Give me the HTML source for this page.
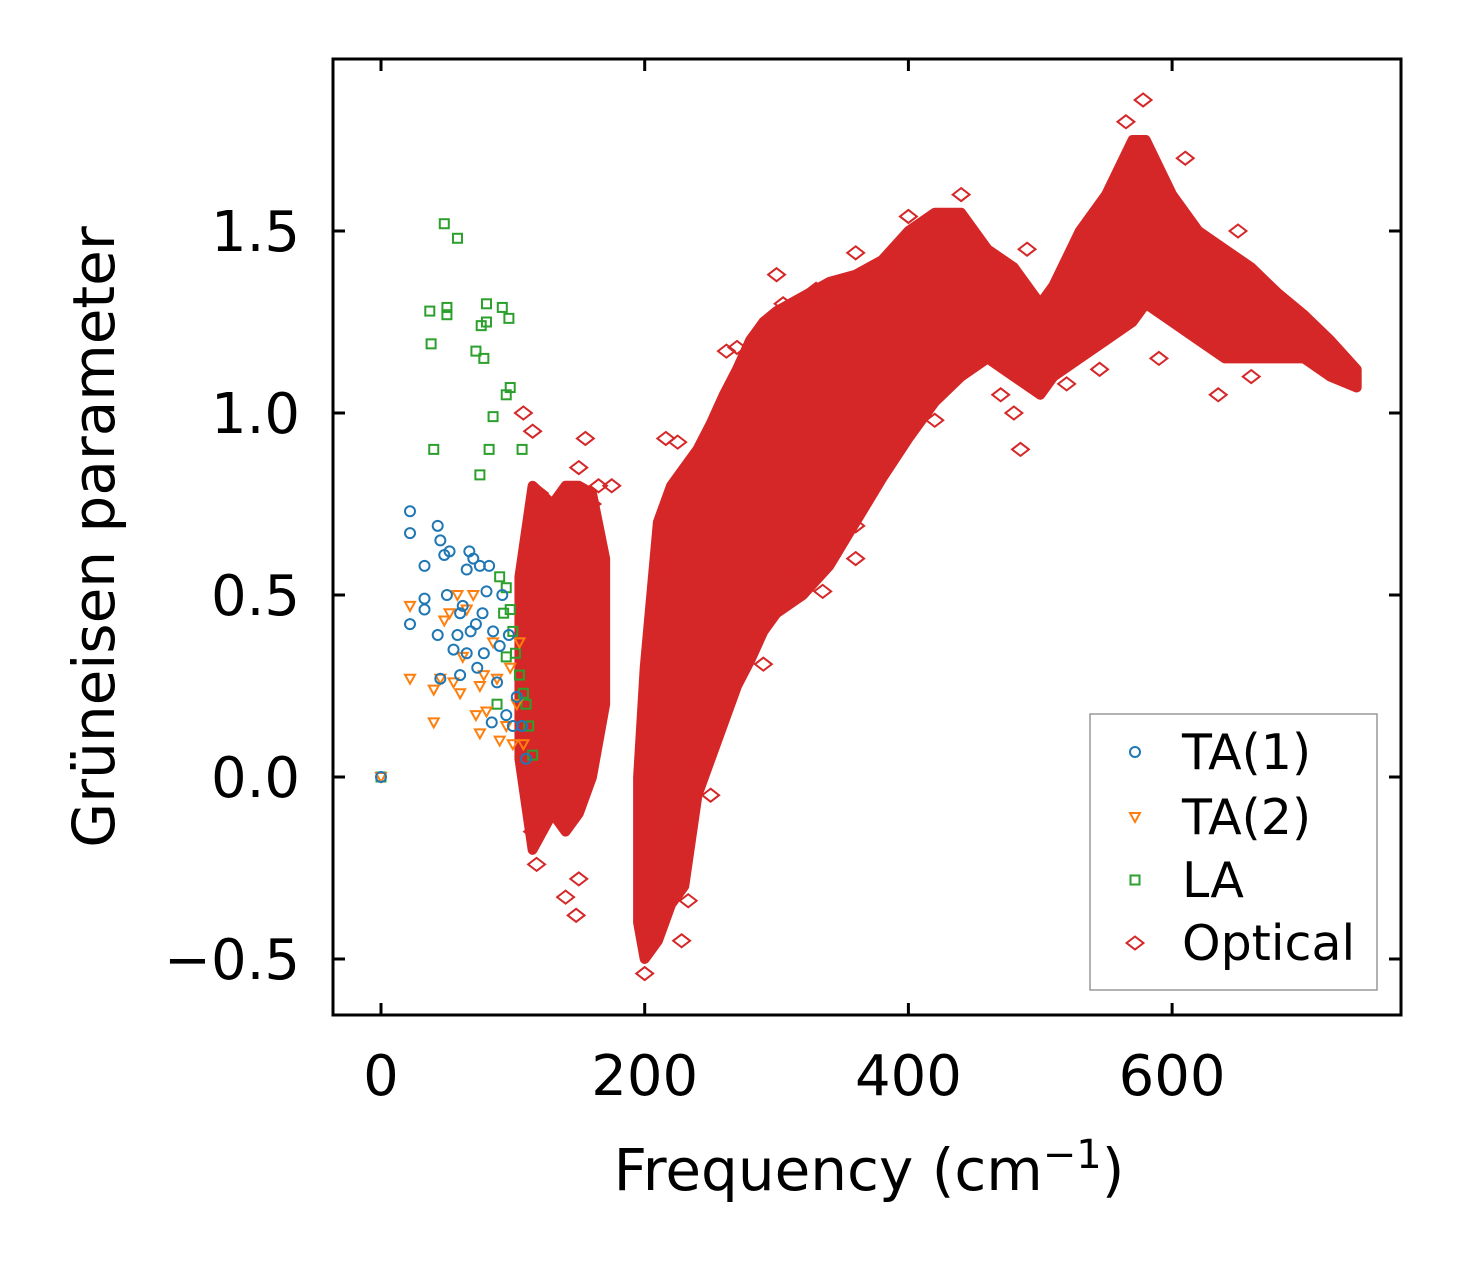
<!DOCTYPE html>
<html><head><meta charset="utf-8"><style>
html,body{margin:0;padding:0;background:#fff}
svg text{font-family:"DejaVu Sans","Liberation Sans",sans-serif;fill:#000}
</style></head><body>
<svg id="chart" width="1462" height="1264" xmlns="http://www.w3.org/2000/svg">
<g id="marks"></g>
<g id="axes"></g>
</svg>
<script>
const xTicks=[0,200,400,600];
const xTickLabels=["0","200","400","600"];
const yTicks=[-0.5,0,0.5,1.0,1.5];
const yTickLabels=["\u22120.5","0.0","0.5","1.0","1.5"];
const ta1X=[0,22,22,22,33,33,33,43,45,43,48,50,52,55,58,60,62,65,67,68,70,72,73,75,78,80,82,84,85,88,90,92,95,97,100,103,107,110,65,60,45,77];
const ta1Y=[0,0.73,0.67,0.42,0.58,0.49,0.46,0.69,0.65,0.39,0.61,0.5,0.62,0.35,0.39,0.28,0.47,0.57,0.62,0.4,0.6,0.42,0.3,0.58,0.34,0.51,0.58,0.15,0.4,0.26,0.36,0.5,0.17,0.39,0.14,0.22,0.14,0.05,0.34,0.45,0.27,0.45];
const ta2X=[0,22,22,40,40,45,48,52,55,58,60,62,70,72,75,78,80,85,88,90,95,98,100,103,105,108,75,65];
const ta2Y=[0,0.47,0.27,0.24,0.15,0.27,0.43,0.45,0.26,0.5,0.23,0.33,0.5,0.17,0.12,0.28,0.18,0.37,0.27,0.1,0.14,0.3,0.09,0.2,0.37,0.09,0.25,0.46];
const laX=[0,37,38,40,48,50,50,58,72,75,76,78,80,80,82,85,92,95,97,98,107,90,93,95,98,100,102,105,108,110,112,115,88,95];
const laY=[0,1.28,1.19,0.9,1.52,1.29,1.27,1.48,1.17,0.83,1.24,1.15,1.3,1.25,0.9,0.99,1.29,1.05,1.26,1.07,0.9,0.55,0.45,0.52,0.46,0.4,0.34,0.28,0.23,0.2,0.14,0.06,0.2,0.33];
// optical band envelope (two lobes)
const bandAFreq=[105,115,130,140,150,160,170];
const bandALow=[0.05,-0.2,-0.1,-0.15,-0.1,0.0,0.2];
const bandAHigh=[0.55,0.8,0.75,0.8,0.8,0.78,0.6];
const bandBFreq=[195,200,210,220,230,240,250,260,270,280,290,300,320,340,360,380,400,420,440,460,480,500,510,530,550,570,580,600,620,640,660,680,700,720,740];
const bandBLow=[-0.4,-0.5,-0.45,-0.35,-0.3,-0.05,0.05,0.15,0.25,0.32,0.4,0.45,0.5,0.58,0.7,0.82,0.93,1.03,1.1,1.15,1.1,1.05,1.1,1.15,1.2,1.25,1.3,1.25,1.2,1.15,1.15,1.15,1.15,1.1,1.07];
const bandBHigh=[0.0,0.3,0.7,0.8,0.85,0.9,0.97,1.05,1.12,1.2,1.25,1.28,1.32,1.36,1.38,1.42,1.5,1.55,1.55,1.45,1.4,1.3,1.35,1.5,1.6,1.75,1.75,1.6,1.5,1.45,1.4,1.33,1.27,1.2,1.12];
const optX=[108,115,120,125,115,118,140,148,150,155,165,200,228,233,300,305,330,350,360,385,400,440,470,480,485,490,578,565,610,635,625,650,290,300,335,360,360,270,262,225,216,150,160,175,280,310,250,320,345,420,520,545,590,660];
const optY=[1.0,0.95,0.78,0.7,-0.15,-0.24,-0.33,-0.38,-0.28,0.93,0.8,-0.54,-0.45,-0.34,1.38,1.3,1.34,1.3,1.44,1.42,1.54,1.6,1.05,1.0,0.9,1.45,1.86,1.8,1.7,1.05,1.35,1.5,0.31,0.47,0.51,0.6,0.69,1.18,1.17,0.92,0.93,0.85,0.75,0.8,0.38,0.55,-0.05,0.58,0.67,0.98,1.08,1.12,1.15,1.1];

const NS='http://www.w3.org/2000/svg';
const L=333,R=1401,T=59,B=1015;
const sx=v=>381+v*1.3185;
const sy=v=>777-v*364;
const marks=document.getElementById('marks'), axes=document.getElementById('axes');
function mk(tag,attrs,parent){const e=document.createElementNS(NS,tag);for(const k in attrs)e.setAttribute(k,attrs[k]);parent.appendChild(e);return e;}
const RED='#d62728';
function band(F,Lo,Hi,name){
  let pts=[];for(let i=0;i<F.length;i++)pts.push(sx(F[i])+','+sy(Hi[i]));
  for(let i=F.length-1;i>=0;i--)pts.push(sx(F[i])+','+sy(Lo[i]));
  const p=mk('polygon',{points:pts.join(' '),fill:RED,stroke:RED,'stroke-width':10,'stroke-linejoin':'round'},marks);
  
  
}
band(bandAFreq,bandALow,bandAHigh,'optical-band-low');
band(bandBFreq,bandBLow,bandBHigh,'optical-band-high');
function diamond(x,y,parent){const d=6.5;return mk('polygon',{points:`${x},${y-d} ${x+d*1.3},${y} ${x},${y+d} ${x-d*1.3},${y}`,fill:'none',stroke:RED,'stroke-width':2},parent);}
for(let i=0;i<optX.length;i++){const e=diamond(sx(optX[i]),sy(optY[i]),marks);

}
function square(x,y,parent){return mk('rect',{x:x-4.5,y:y-4.5,width:9,height:9,fill:'none',stroke:'#2ca02c','stroke-width':2},parent);}
function tri(x,y,parent){return mk('polygon',{points:`${x-5},${y-4} ${x+5},${y-4} ${x},${y+5}`,fill:'none',stroke:'#ff7f0e','stroke-width':2},parent);}
function circ(x,y,parent){return mk('circle',{cx:x,cy:y,r:5,fill:'none',stroke:'#1f77b4','stroke-width':2},parent);}
for(let i=0;i<laX.length;i++){const e=square(sx(laX[i]),sy(laY[i]),marks);

}
for(let i=0;i<ta2X.length;i++){const e=tri(sx(ta2X[i]),sy(ta2Y[i]),marks);

}
for(let i=0;i<ta1X.length;i++){const e=circ(sx(ta1X[i]),sy(ta1Y[i]),marks);

}
// frame
const fr=mk('rect',{x:L,y:T,width:R-L,height:B-T,fill:'none',stroke:'#000','stroke-width':3},axes);


xTicks.forEach((v,i)=>{const x=sx(v);
  mk('line',{x1:x,y1:B,x2:x,y2:B-12,stroke:'#000','stroke-width':3},axes);
  mk('line',{x1:x,y1:T,x2:x,y2:T+12,stroke:'#000','stroke-width':3},axes);
  const t=mk('text',{x:x,y:1095,'font-size':56,'text-anchor':'middle'},axes);t.textContent=xTickLabels[i];
  
  });
yTicks.forEach((v,i)=>{const y=sy(v);
  mk('line',{x1:L,y1:y,x2:L+12,y2:y,stroke:'#000','stroke-width':3},axes);
  mk('line',{x1:R,y1:y,x2:R-12,y2:y,stroke:'#000','stroke-width':3},axes);
  const t=mk('text',{x:300,y:y+20,'font-size':56,'text-anchor':'end'},axes);t.textContent=yTickLabels[i];
  
  });
const xt=mk('text',{x:869,y:1190,'font-size':58,'text-anchor':'middle'},axes);
xt.innerHTML='Frequency (cm<tspan dy="-22" font-size="40">\u22121</tspan><tspan dy="22">)</tspan>';


const yt=mk('text',{x:0,y:0,'font-size':58,'text-anchor':'middle',transform:'translate(114,537) rotate(-90)'},axes);
yt.textContent='Grüneisen parameter';


// legend
const lg=mk('g',{},axes);


mk('rect',{x:1090,y:714,width:287,height:276,fill:'#fff',stroke:'#999','stroke-width':1.5},lg);
const labels=['TA(1)','TA(2)','LA','Optical'];const ys=[752,817,880,943];const fns=[circ,tri,square,diamond];
labels.forEach((s,i)=>{fns[i](1135,ys[i],lg);
  const t=mk('text',{x:1182,y:ys[i]+17,'font-size':49},lg);t.textContent=s;
  
  });
</script>
</body></html>
